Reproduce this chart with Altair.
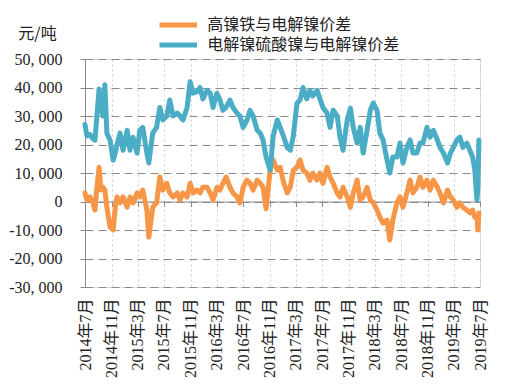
import altair as alt
import pandas as pd

dates = [
    "2014-07-01", "2014-07-10", "2014-07-24", "2014-08-07", "2014-08-16", "2014-08-25", "2014-09-04", "2014-09-13", "2014-09-22", "2014-10-01",
    "2014-10-10", "2014-10-25", "2014-11-08", "2014-11-18", "2014-11-26", "2014-12-10", "2014-12-24", "2015-01-12", "2015-01-25", "2015-02-08",
    "2015-02-27", "2015-03-11", "2015-03-25", "2015-04-13", "2015-04-22", "2015-05-10", "2015-05-28", "2015-06-12", "2015-06-26", "2015-07-14",
    "2015-07-28", "2015-08-12", "2015-09-01", "2015-09-13", "2015-09-27", "2015-10-16", "2015-10-30", "2015-11-13", "2015-12-01", "2015-12-15",
    "2015-12-28", "2016-01-16", "2016-01-31", "2016-02-13", "2016-03-02", "2016-03-16", "2016-03-30", "2016-04-13", "2016-05-01", "2016-05-15",
    "2016-06-03", "2016-06-16", "2016-07-01", "2016-07-19", "2016-08-02", "2016-08-16", "2016-09-04", "2016-09-18", "2016-10-01", "2016-10-15",
    "2016-11-03", "2016-11-17", "2016-12-06", "2016-12-19", "2017-01-03", "2017-01-21", "2017-02-04", "2017-02-18", "2017-03-07", "2017-03-21",
    "2017-04-04", "2017-04-21", "2017-05-06", "2017-05-19", "2017-06-08", "2017-06-21", "2017-07-05", "2017-07-24", "2017-08-07", "2017-08-21",
    "2017-09-09", "2017-09-22", "2017-10-06", "2017-10-25", "2017-11-09", "2017-11-22", "2017-12-10", "2017-12-24", "2018-01-07", "2018-01-25",
    "2018-02-09", "2018-02-23", "2018-03-12", "2018-03-25", "2018-04-09", "2018-04-27", "2018-05-10", "2018-05-24", "2018-06-12", "2018-06-26",
    "2018-07-10", "2018-07-28", "2018-08-12", "2018-08-25", "2018-09-12", "2018-09-27", "2018-10-10", "2018-10-29", "2018-11-12", "2018-11-27",
    "2018-12-16", "2018-12-28", "2019-01-13", "2019-02-01", "2019-02-14", "2019-02-28", "2019-03-16", "2019-03-30", "2019-04-13", "2019-05-01",
    "2019-05-15", "2019-05-28", "2019-06-07", "2019-06-17", "2019-06-21", "2019-06-26",
]

npi_spread = [
    3000, 500, 1600, -500, -3000, 5000, 12000, 4000, 5000, 4000,
    -2000, -9000, -10000, -2000, 1600, -500, 1600, -2000, 1600, -500,
    3000, 1600, 4000, -3000, -12500, -2000, -500, 8600, 4000, 6400,
    3000, 1600, 3000, 500, 3000, 1600, 6400, 3000, 4000, 3000,
    5000, 5000, 3000, 500, 5000, 4000, 6400, 8600, 5000, 3000,
    1600, -500, 5000, 7500, 6400, 4000, 7500, 6400, 5000, -2500,
    11000, 14600, 11000, 12000, 7000, 3000, 5000, 11000, 12000, 14600,
    11000, 10000, 7500, 10000, 7500, 10000, 6400, 12000, 8600, 6400,
    3000, 1600, 5000, 1600, -2000, 3000, 7500, 500, 1600, 5000,
    500, -500, -3000, -5500, -7600, -6500, -13500, -6500, -500, 1600,
    -2000, 3000, 7500, 3000, 5000, 8600, 5000, 7500, 4000, 7500,
    5000, 3000, -500, 4000, 1600, 500, -2000, -500, -2000, -3000,
    -4000, -3000, -5500, -5000, -10000, -4000,
]

sulfate_spread = [
    27000, 23000, 23500, 22000, 21500, 30000, 39500, 33000, 30000, 41000,
    24000, 21500, 14500, 17000, 20000, 24000, 18000, 25000, 18000, 22500,
    17000, 25000, 26000, 17000, 13500, 24000, 26000, 33000, 28600, 30000,
    35600, 30000, 31000, 30000, 28600, 33000, 42000, 38000, 38500, 40000,
    36000, 39000, 38000, 33000, 38000, 35600, 32000, 33000, 35600, 33000,
    31000, 30000, 26000, 28600, 32000, 30000, 25000, 24000, 21600, 15600,
    11000, 23000, 28600, 26000, 23000, 19000, 18000, 23000, 34500, 35600,
    40000, 36000, 39000, 37000, 39000, 36000, 33000, 31000, 26000, 32000,
    30000, 22600, 18000, 28600, 32700, 26000, 20500, 26000, 17000, 25000,
    32000, 34500, 32000, 24000, 21600, 14600, 10000, 15600, 15600, 20500,
    13500, 19000, 21600, 17000, 17000, 20500, 20500, 26000, 22600, 25000,
    21600, 19000, 17000, 13500, 17000, 19000, 21600, 22600, 19000, 20500,
    18000, 15600, 11000, 500, 5000, 21600,
]

series_names = ["高镍铁与电解镍价差", "电解镍硫酸镍与电解镍价差"]
series_colors = ["#F79646", "#4BACC6"]
y_ticks = [-30000, -20000, -10000, 0, 10000, 20000, 30000, 40000, 50000]
x_tick_months = [(2014, 7), (2014, 11), (2015, 3), (2015, 7), (2015, 11), (2016, 3),
                 (2016, 7), (2016, 11), (2017, 3), (2017, 7), (2017, 11), (2018, 3),
                 (2018, 7), (2018, 11), (2019, 3), (2019, 7)]

n = len(dates)
df = pd.DataFrame({
    "date": dates + dates,
    "value": npi_spread + sulfate_spread,
    "series": [series_names[0]] * n + [series_names[1]] * n,
})

SERIF = "Liberation Serif, Noto Sans CJK SC"
CJK = "Noto Sans CJK SC"
TXT = "#222222"
GRID = "#8a8a8a"

x_vals = [alt.DateTime(year=y, month=m, date=1, utc=True) for y, m in x_tick_months]
x_scale = alt.Scale(type="utc", domain=[x_vals[0], x_vals[-1]])
y_scale = alt.Scale(domain=[-30000, 50000], nice=False, zero=False)

y_axis = alt.Axis(
    values=y_ticks, title="元/吨", titleAngle=0, titleX=-48, titleY=-26,
    titleAlign="center", titleBaseline="middle", titleFont=CJK, titleFontSize=16,
    titleFontWeight="normal", titleColor=TXT,
    labelFont=SERIF, labelFontSize=16, labelColor=TXT, labelPadding=18,
    labelExpr="replace(replace(format(datum.value, ','), ',', ', '), '\u2212', '-')",
    tickSize=5, tickColor=GRID, domainColor=GRID,
    grid=True, gridColor=GRID, gridDash=[8, 5], gridWidth=1,
)

x_label_axis = alt.Axis(
    values=x_vals, orient="bottom", title=None,
    labelExpr="utcFormat(datum.value, '%Y') + '年' + utcFormat(datum.value, '%-m') + '月'",
    labelAngle=-90, labelFont=SERIF, labelFontSize=16, labelColor=TXT, labelPadding=11,
    labelOverlap=False, ticks=False, domain=False,
    grid=True, gridColor="#cfcfcf", gridDash=[2, 3], gridWidth=1,
)

x_zero_axis = alt.Axis(
    values=x_vals, orient="bottom", offset=-85.5, title=None, labels=False,
    ticks=True, tickSize=5, tickColor=GRID, domain=True, domainColor=GRID, grid=False,
)

color = alt.Color(
    "series:N",
    scale=alt.Scale(domain=series_names, range=series_colors),
    legend=alt.Legend(
        title=None, orient="none", legendX=83.25, legendY=-44, direction="vertical",
        symbolType="M-2.5,0H2.5", symbolSize=225, symbolStrokeWidth=5,
        labelFont=CJK, labelFontSize=16, labelColor=TXT, labelOffset=19,
        labelLimit=400, rowPadding=-3, padding=0,
    ),
)

base = alt.Chart(df)

orange = base.transform_filter(alt.datum.series == series_names[0]).mark_line(
    strokeWidth=5, strokeJoin="round", strokeCap="round"
).encode(
    x=alt.X("date:T", scale=x_scale, axis=x_label_axis),
    y=alt.Y("value:Q", scale=y_scale, axis=y_axis),
    color=color,
)

blue = base.transform_filter(alt.datum.series == series_names[1]).mark_line(
    strokeWidth=5, strokeJoin="round", strokeCap="round"
).encode(
    x=alt.X("date:T", scale=x_scale, axis=x_zero_axis),
    y=alt.Y("value:Q", scale=y_scale, axis=y_axis),
    color=color,
)

chart = alt.layer(orange, blue).resolve_axis(x="independent").properties(
    width=395, height=228,
    autosize=alt.AutoSizeParams(type="none"),
    padding={"left": 77, "top": 51, "right": 22, "bottom": 94},
).configure_view(stroke=None).configure(background="white")

chart.save("out.html", embed_options={"renderer": "svg", "actions": False})
